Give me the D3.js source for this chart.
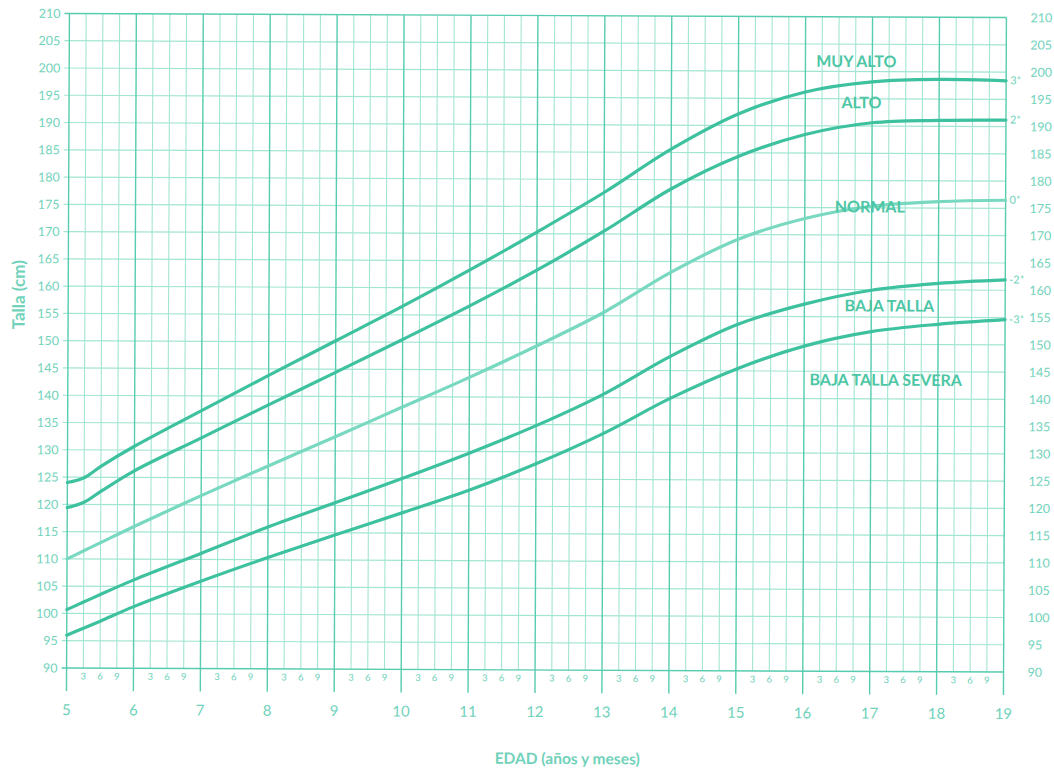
<!DOCTYPE html>
<html>
<head>
<meta charset="utf-8">
<script src="https://cdn.jsdelivr.net/npm/d3@7"></script>
<style>
  html, body { margin: 0; padding: 0; background: #ffffff; }
  svg { display: block; }
  text { font-family: Lato, "Open Sans", sans-serif; }
</style>
</head>
<body>
<svg id="chart" width="1054" height="773"></svg>
<script>
// Age (years) at which each growth curve is sampled
const ages = [5, 5.25, 5.5, 6, 7, 8, 9, 10, 11, 12, 13, 14, 15, 16, 17, 18, 19];

// Height (cm) for each reference curve, one value per age
const muyAlto    = [124.0, 124.9, 127.0, 130.7, 137.3, 143.8, 150.2, 156.6, 163.3, 170.3, 177.6, 185.6, 192.1, 196.2, 198.1, 198.6, 198.4];
const alto       = [119.4, 120.4, 122.4, 126.2, 132.3, 138.4, 144.4, 150.5, 156.7, 163.3, 170.5, 178.3, 184.3, 188.4, 190.6, 191.1, 191.2];
const normal     = [110.0, 111.5, 113.0, 116.0, 121.7, 127.2, 132.6, 138.1, 143.6, 149.4, 155.6, 163.0, 169.1, 173.0, 175.3, 176.2, 176.5];
const bajaTalla  = [100.7, 102.1, 103.5, 106.2, 111.1, 116.0, 120.5, 125.0, 129.7, 134.8, 140.6, 147.6, 153.5, 157.3, 159.9, 161.2, 161.9];
const bajaSevera = [96.0, 97.3, 98.6, 101.3, 106.0, 110.4, 114.6, 118.7, 122.9, 127.8, 133.4, 139.9, 145.4, 149.6, 152.3, 153.7, 154.6];

// Curve names and the z-score tag written at the end of each curve
const curveNames = ["MUY ALTO", "ALTO", "NORMAL", "BAJA TALLA", "BAJA TALLA SEVERA"];
const curveTags  = ["3*", "2*", "0*", "-2*", "-3*"];
const curveSeries = [muyAlto, alto, normal, bajaTalla, bajaSevera];
// Where each curve name sits (age, height)
const labelAges    = [16.76, 16.84, 16.97, 17.27, 17.22];
const labelHeights = [202.0, 194.45, 175.35, 157.2, 143.6];

// Axis ticks
const yearTicks   = d3.range(5, 20, 1);          // 5 … 19
const heightTicks = d3.range(90, 211, 5);        // 90 … 210
const monthTicks  = [3, 6, 9];
const yTitle = "Talla (cm)";
const xTitle = "EDAD (años y meses)";

const svg = d3.select("#chart");
const x = d3.scaleLinear().domain([5, 19]).range([68, 1005]);
const y = d3.scaleLinear().domain([90, 210]).range([670, 15.5]);

const TEAL_DARK  = "#3dc19e";
const TEAL_LIGHT = "#78d8c0";
const GRID_MINOR = "#a3e5d3";
const GRID_MAJOR = "#57ccae";
const TEXT_COL   = "#70d2ba";

// The printed sheet sits very slightly turned
const g = svg.append("g").attr("transform", "rotate(0.25, 536, 342)");

// Minor vertical grid: every quarter year
const quarters = d3.range(5, 19.001, 0.25).filter(d => Math.abs(d - Math.round(d)) > 1e-6);
g.append("g").selectAll("line").data(quarters).join("line")
  .attr("x1", d => x(d)).attr("x2", d => x(d))
  .attr("y1", y(210)).attr("y2", y(90))
  .attr("stroke", GRID_MINOR).attr("stroke-width", 1.1);

// Horizontal grid every 5 cm, with short ticks on the left
g.append("g").selectAll("line").data(heightTicks).join("line")
  .attr("x1", x(5) - 5).attr("x2", x(19))
  .attr("y1", d => y(d)).attr("y2", d => y(d))
  .attr("stroke", d => (d === 90 || d === 210) ? GRID_MAJOR : GRID_MINOR)
  .attr("stroke-width", d => (d === 90 || d === 210) ? 1.4 : 1.2);

// Year lines, running past the base line as ticks
g.append("g").selectAll("line").data(yearTicks).join("line")
  .attr("x1", d => x(d)).attr("x2", d => x(d))
  .attr("y1", y(210)).attr("y2", y(90) + 23)
  .attr("stroke", GRID_MAJOR).attr("stroke-width", 1.4);

// Height labels, left and right
g.append("g").selectAll("text").data(heightTicks).join("text")
  .attr("x", x(5) - 9).attr("y", d => y(d))
  .attr("text-anchor", "end").attr("dominant-baseline", "central")
  .attr("font-size", 12.5).attr("fill", TEXT_COL)
  .text(d => d);
g.append("g").selectAll("text").data(heightTicks).join("text")
  .attr("x", x(19) + 24).attr("y", d => y(d))
  .attr("text-anchor", "start").attr("dominant-baseline", "central")
  .attr("font-size", 12.5).attr("fill", TEXT_COL)
  .text(d => d);

// Month labels (3, 6, 9) inside each year band
const monthPos = [];
yearTicks.slice(0, -1).forEach(yr => monthTicks.forEach(m => monthPos.push({ yr, m })));
g.append("g").selectAll("text").data(monthPos).join("text")
  .attr("x", d => x(d.yr + d.m / 12)).attr("y", y(90) + 8)
  .attr("text-anchor", "middle").attr("dominant-baseline", "central")
  .attr("font-size", 9.5).attr("fill", TEXT_COL)
  .text(d => d.m);

// Year labels
g.append("g").selectAll("text").data(yearTicks).join("text")
  .attr("x", d => x(d)).attr("y", y(90) + 41)
  .attr("text-anchor", "middle").attr("dominant-baseline", "central")
  .attr("font-size", 15).attr("fill", TEXT_COL)
  .text(d => d);

// Growth curves
const line = d3.line()
  .x((d, i) => x(ages[i]))
  .y(d => y(d))
  .curve(d3.curveCatmullRom.alpha(0.5));

g.append("g").selectAll("path").data(curveSeries).join("path")
  .attr("d", d => line(d))
  .attr("fill", "none")
  .attr("stroke", (d, i) => i === 2 ? TEAL_LIGHT : TEAL_DARK)
  .attr("stroke-width", 3.2)
  .attr("stroke-linecap", "round");

// Z-score tags at the right end of each curve
g.append("g").selectAll("text").data(curveSeries).join("text")
  .attr("x", x(19) + 4).attr("y", d => y(d[d.length - 1]) - 1)
  .attr("dominant-baseline", "central")
  .attr("font-size", 11).attr("fill", TEXT_COL)
  .text((d, i) => curveTags[i]);

// Curve names
g.append("g").selectAll("text").data(curveNames).join("text")
  .attr("x", (d, i) => x(labelAges[i])).attr("y", (d, i) => y(labelHeights[i]))
  .attr("text-anchor", "middle").attr("dominant-baseline", "central")
  .attr("font-size", 16).attr("font-weight", 700)
  .attr("fill", "#4cc6a5")
  .text(d => d);

// Axis titles
g.append("text")
  .attr("transform", `translate(18, 297) rotate(-90)`)
  .attr("text-anchor", "middle").attr("dominant-baseline", "central")
  .attr("font-size", 17).attr("font-weight", 700).attr("fill", TEXT_COL)
  .text(yTitle);
g.append("text")
  .attr("x", 569).attr("y", 758)
  .attr("text-anchor", "middle").attr("dominant-baseline", "central")
  .attr("font-size", 15.5).attr("font-weight", 700).attr("fill", TEXT_COL)
  .text(xTitle);
</script>
</body>
</html>
